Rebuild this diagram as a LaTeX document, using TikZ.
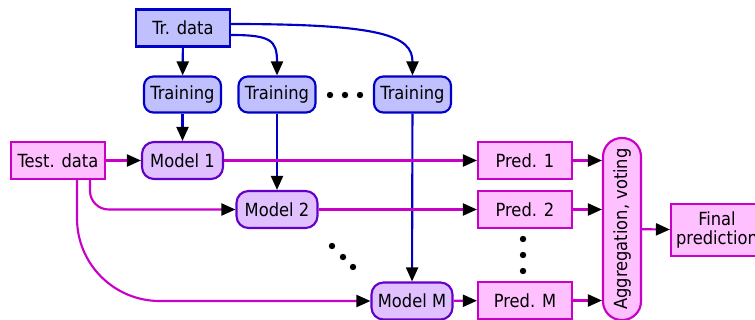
\documentclass[tikz,border=0pt]{standalone}
\usepackage{fontspec}
\setmainfont{DejaVu Sans Condensed}
\usetikzlibrary{arrows.meta,positioning}
\definecolor{trfill}{HTML}{C0C0FF}
\definecolor{trline}{HTML}{0000C8}
\definecolor{tsfill}{HTML}{FFC0FF}
\definecolor{tsline}{HTML}{C800C8}
\definecolor{mdfill}{HTML}{E0C0FF}
\definecolor{mdline}{HTML}{6400C8}

\begin{document}
\begin{tikzpicture}[x=0.75pt, y=-0.75pt, every node/.style={font=\fontsize{13.6}{14.5}\selectfont, inner sep=0pt, line width=1.6pt, align=center},
    trbox/.style={draw=trline, fill=trfill, minimum width=70.5pt, minimum height=27.75pt},
    trainbox/.style={draw=trline, fill=trfill, rounded corners=7pt, minimum width=57.75pt, minimum height=27pt},
    tsbox/.style={draw=tsline, fill=tsfill, minimum width=70.5pt, minimum height=27.75pt},
    modelbox/.style={draw=mdline, fill=mdfill, rounded corners=9pt, minimum width=60.75pt, minimum height=27.75pt},
    blueflow/.style={draw=trline, line width=1.6pt, -{Triangle[color=black, length=10.5pt, width=9pt]}},
    pinkflow/.style={draw=tsline, line width=1.6pt, -{Triangle[color=black, length=10.5pt, width=9pt]}}]
    \useasboundingbox (0,0) rectangle (755,320);

    \node[trbox] (trdata) at (183,28) {Tr. data};
    \node[trainbox] (train1) at (182.5,94.5) {Training};
    \node[trainbox] (train2) at (277,94.5) {Training};
    \node[trainbox] (trainM) at (412.5,94.5) {Training};

    \node[tsbox] (tsdata) at (58,160.5) {Test. data};
    \node[modelbox] (model1) at (182.5,160.5) {Model 1};
    \node[modelbox] (model2) at (277,209.5) {Model 2};
    \node[modelbox] (modelM) at (412,301) {Model M};

    \node[tsbox] (pred1) at (525,160.5) {Pred. 1};
    \node[tsbox] (pred2) at (525,209.5) {Pred. 2};
    \node[tsbox] (predM) at (525,300.5) {Pred. M};

    \node[draw=tsline, fill=tsfill, rounded corners=14pt, rotate=90, minimum width=136.5pt, minimum height=28.5pt] (agg) at (622,229) {Aggregation, voting};
    \node[tsbox, minimum width=69pt, minimum height=39pt, align=center] (final) at (717,230) {Final\\prediction};

    % dots
    \foreach \dx in {330,345,360} \fill (\dx,95) circle (2.4pt);
    \fill (332,246) circle (2.4pt) (343,257) circle (2.4pt) (353,267) circle (2.4pt);
    \foreach \dy in {239,255,271} \fill (523,\dy) circle (2.4pt);

    % training data
    \draw[blueflow] (trdata) -- (train1);
    \draw[blueflow] ([yshift=-5.25pt]trdata.east) .. controls +(40,0) and +(0,-35) .. (train2.north);
    \draw[blueflow] ([yshift=3pt]trdata.east) .. controls +(150,0) and +(0,-40) .. (trainM.north);
    \draw[blueflow] (train1) -- (model1);
    \draw[blueflow] (train2) -- (model2);
    \draw[blueflow] (trainM) -- (modelM);

    % test data
    \draw[pinkflow] (tsdata) -- (model1);
    \draw[pinkflow, rounded corners=14pt] ([xshift=24pt]tsdata.south) |- (model2.west);
    \draw[pinkflow, rounded corners=62pt] ([xshift=14.25pt]tsdata.south) |- (modelM.west);

    % predictions
    \draw[pinkflow] (model1) -- (pred1);
    \draw[pinkflow] (model2) -- (pred2);
    \draw[pinkflow] (modelM) -- (predM);
    \draw[pinkflow] (pred1) -- (pred1 -| agg.north);
    \draw[pinkflow] (pred2) -- (pred2 -| agg.north);
    \draw[pinkflow] (predM) -- (predM -| agg.north);
    \draw[pinkflow] (agg) -- (final);
\end{tikzpicture}
\end{document}
